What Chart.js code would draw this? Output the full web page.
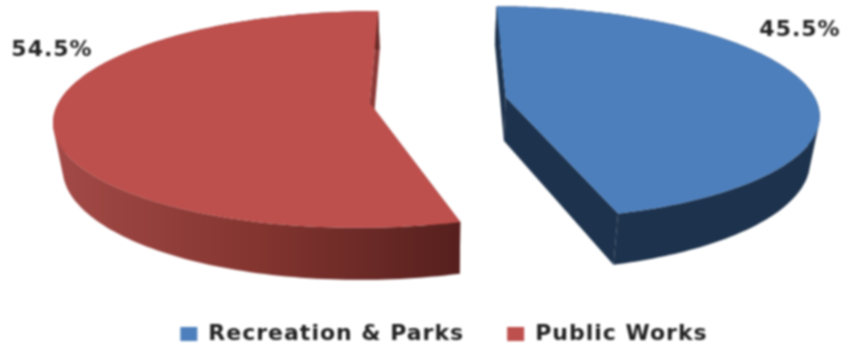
<!DOCTYPE html>
<html>
<head>
<meta charset="utf-8">
<title>Pie</title>
<script src="https://cdn.jsdelivr.net/npm/chart.js@4"></script>
<style>
  html, body { margin: 0; background: #fff; }
  canvas { display: block; filter: blur(0.8px); }
</style>
</head>
<body>
<canvas id="pieChart" width="843" height="345"></canvas>
<script>
const categories = ['Recreation & Parks', 'Public Works'];
const shares = [45.5, 54.5];
const topColors = ['#4d7fbc', '#bd4f4c'];
const labelSpots = [[800, 30], [52, 50]];

// view of the pie plate: perspective, tilt and thickness
const view = {
    xc: 435, yc: 100, A: 315.5, B: 105, k: 0.15,
    depth: 44, shrink: 0.025, explode: 0.208, rx: 0.983, nudge: [0.019, 0]
};
const spacing = '1px';

function project(u, v, down) {
    const w = 1 - view.k * v;
    let x = view.xc + view.A * u / w;
    const y = view.yc + (view.B * v + (down ? view.depth : 0)) / w;
    if (down) x = view.xc + (x - view.xc) * (1 - view.shrink);
    return [x, y];
}

function addPoly(ctx, pts) {
    pts.forEach((p, i) => i ? ctx.lineTo(p[0], p[1]) : ctx.moveTo(p[0], p[1]));
    ctx.closePath();
}

function pathOf(ctx, pts) {
    ctx.beginPath();
    addPoly(ctx, pts);
}

function area(q) {
    let s = 0;
    q.forEach((p, i) => {
        const n = q[(i + 1) % q.length];
        s += p[0] * n[1] - n[0] * p[1];
    });
    return s;
}

function drawSlice(ctx, arc, index) {
    const mid = (arc.startAngle + arc.endAngle) / 2;
    const u0 = view.explode * Math.cos(mid) + view.nudge[index];
    const v0 = view.explode * Math.sin(mid);
    const rim = (t, down) => project(u0 + view.rx * Math.cos(t), v0 + Math.sin(t), down);

    const topEdge = [];
    const lowEdge = [];
    const steps = 160;
    for (let i = 0; i <= steps; i++) {
        const t = arc.startAngle + (arc.endAngle - arc.startAngle) * i / steps;
        topEdge.push(rim(t, false));
        lowEdge.push(rim(t, true));
    }
    const apex = project(u0, v0, false);
    const apexLow = project(u0, v0, true);

    let side;
    if (index === 0) {
        side = '#1d324c';
    } else {
        side = ctx.createLinearGradient(52, 0, 460, 0);
        side.addColorStop(0, '#a34a47');
        side.addColorStop(0.5, '#843530');
        side.addColorStop(1, '#56201e');
    }

    ctx.fillStyle = index === 0 ? '#1d324c' : '#8c3a37';
    pathOf(ctx, [apex, topEdge[0], lowEdge[0], apexLow]);
    ctx.fill();
    pathOf(ctx, [apex, topEdge[steps], lowEdge[steps], apexLow]);
    ctx.fill();

    // all rim quads in one path, same winding, so the fold of the rim leaves no hole
    ctx.fillStyle = side;
    ctx.beginPath();
    for (let i = 0; i < steps; i++) {
        const q = [topEdge[i], topEdge[i + 1], lowEdge[i + 1], lowEdge[i]];
        addPoly(ctx, area(q) < 0 ? q.reverse() : q);
    }
    ctx.fill();

    ctx.fillStyle = arc.options.backgroundColor;
    pathOf(ctx, [apex].concat(topEdge));
    ctx.fill();
}

const tiltedPie = {
    id: 'tiltedPie',
    // the canvas resize wipes the context state, so set the spacing again here
    beforeUpdate(chart) {
        chart.ctx.letterSpacing = spacing;
    },
    beforeDraw(chart) {
        chart.ctx.letterSpacing = spacing;
    },
    beforeDatasetsDraw(chart) {
        const ctx = chart.ctx;
        const arcs = chart.getDatasetMeta(0).data;
        arcs.forEach((arc, i) => drawSlice(ctx, arc, i));
        ctx.save();
        ctx.fillStyle = '#222';
        ctx.font = 'bold 22px "DejaVu Sans"';
        ctx.textAlign = 'center';
        ctx.textBaseline = 'middle';
        arcs.forEach((arc, i) => {
            ctx.fillText(shares[i].toFixed(1) + '%', labelSpots[i][0], labelSpots[i][1]);
        });
        ctx.restore();
        return false;
    }
};

new Chart(document.getElementById('pieChart'), {
    type: 'pie',
    data: {
        labels: categories,
        datasets: [{
            data: shares,
            backgroundColor: topColors,
            offset: 20,
            borderWidth: 0
        }]
    },
    options: {
        responsive: false,
        animation: false,
        layout: { padding: { left: 45, bottom: -10 } },
        plugins: {
            tooltip: { enabled: false },
            legend: {
                position: 'bottom',
                labels: {
                    boxWidth: 17,
                    boxHeight: 14,
                    padding: 43,
                    color: '#222',
                    font: { family: '"DejaVu Sans"', size: 22, weight: 'bold' }
                }
            }
        }
    },
    plugins: [tiltedPie]
});
</script>
</body>
</html>
